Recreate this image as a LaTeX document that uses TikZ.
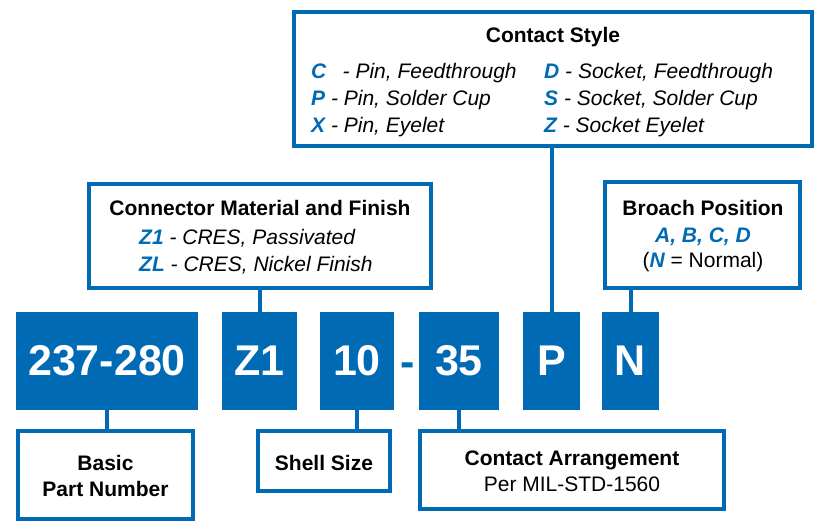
\documentclass[tikz,border=0pt]{standalone}
\usepackage{fontspec}
\setmainfont{Liberation Sans}
\definecolor{brand}{RGB}{0,106,180}
\newcommand\pcode[1]{\textcolor{brand}{\bfseries\itshape #1}}
\begin{document}
\begin{tikzpicture}[x=1pt,y=-1pt,
  blk/.style={fill=brand, draw=none, minimum height=98, inner sep=0, text=white,
    font=\fontsize{43}{43}\selectfont\bfseries},
  frame/.style={draw=brand, line width=4, fill=white, inner sep=0},
  link/.style={draw=brand, line width=4},
  lbl/.style={inner sep=0, font=\fontsize{21}{24}\selectfont},
  ttl/.style={inner sep=0, font=\fontsize{21}{24}\selectfont\bfseries},
  itl/.style={inner sep=0, font=\fontsize{21}{24}\selectfont\itshape, anchor=base west},
]
\useasboundingbox (0,0) rectangle (817,529);
% code blocks
\node[blk, minimum width=182] (pn) at (107,361) {237-280};
\node[blk, minimum width=75] (mat) at (259.5,361) {Z1};
\node[blk, minimum width=74] (shell) at (357,361) {10};
\node[inner sep=0, anchor=base, text=brand, font=\fontsize{43}{43}\selectfont\bfseries] (dash) at (408,377) {-};
\node[blk, minimum width=80] (arr) at (459,361) {35};
\node[blk, minimum width=57] (sty) at (551.5,361) {P};
\node[blk, minimum width=57] (bro) at (630.5,361) {N};
% description frames
\node[frame, minimum width=518, minimum height=134] (fsty) at (553,79) {};
\node[frame, minimum width=342, minimum height=104] (fmat) at (260,236) {};
\node[frame, minimum width=195, minimum height=106] (fbro) at (702.5,235) {};
\node[frame, minimum width=175, minimum height=88] (fpn) at (105.5,475) {};
\node[frame, minimum width=132, minimum height=60] (fshell) at (324,461) {};
\node[frame, minimum width=304, minimum height=78] (farr) at (572,470) {};
% connectors
\draw[link] (pn.south) -- (pn.south |- fpn.north);
\draw[link] (shell.south) -- (shell.south |- fshell.north);
\draw[link] (arr.south) -- (arr.south |- farr.north);
\draw[link] (mat.north) -- (mat.north |- fmat.south);
\draw[link] (sty.north) -- (sty.north |- fsty.south);
\draw[link] (bro.north) -- (bro.north |- fbro.south);
% Contact Style text
\node[ttl, anchor=base] (tsty) at (553,43) {Contact Style};
\node[itl] (c1) at (311,79) {\pcode{C}\hspace{10.5pt} - Pin, Feedthrough};
\node[itl] (c2) at (311,106) {\pcode{P} - Pin, Solder Cup};
\node[itl] (c3) at (311,133) {\pcode{X} - Pin, Eyelet};
\node[itl] (c4) at (544,79) {\pcode{D} - Socket, Feedthrough};
\node[itl] (c5) at (544,106) {\pcode{S} - Socket, Solder Cup};
\node[itl] (c6) at (544,133) {\pcode{Z} - Socket Eyelet};
% Material text
\node[ttl, anchor=base] (tmat) at (260,216) {Connector Material and Finish};
\node[itl] (m1) at (139,245) {\pcode{Z1} - CRES, Passivated};
\node[itl] (m2) at (139,272) {\pcode{ZL} - CRES, Nickel Finish};
% Broach text
\node[ttl, anchor=base] (tbro) at (703,216) {Broach Position};
\node[lbl, anchor=base] (b1) at (703,243) {\pcode{A, B, C, D}};
\node[lbl, anchor=base] (b2) at (703,268) {(\pcode{N} = Normal)};
% bottom text
\node[ttl, anchor=base] (tpn1) at (105.5,470) {Basic};
\node[ttl, anchor=base] (tpn2) at (105.5,496) {Part Number};
\node[ttl, anchor=base] (tshell) at (324,470) {Shell Size};
\node[ttl, anchor=base] (tarr1) at (572,465) {Contact Arrangement};
\node[lbl, anchor=base] (tarr2) at (572,491) {Per MIL-STD-1560};
\end{tikzpicture}
\end{document}
